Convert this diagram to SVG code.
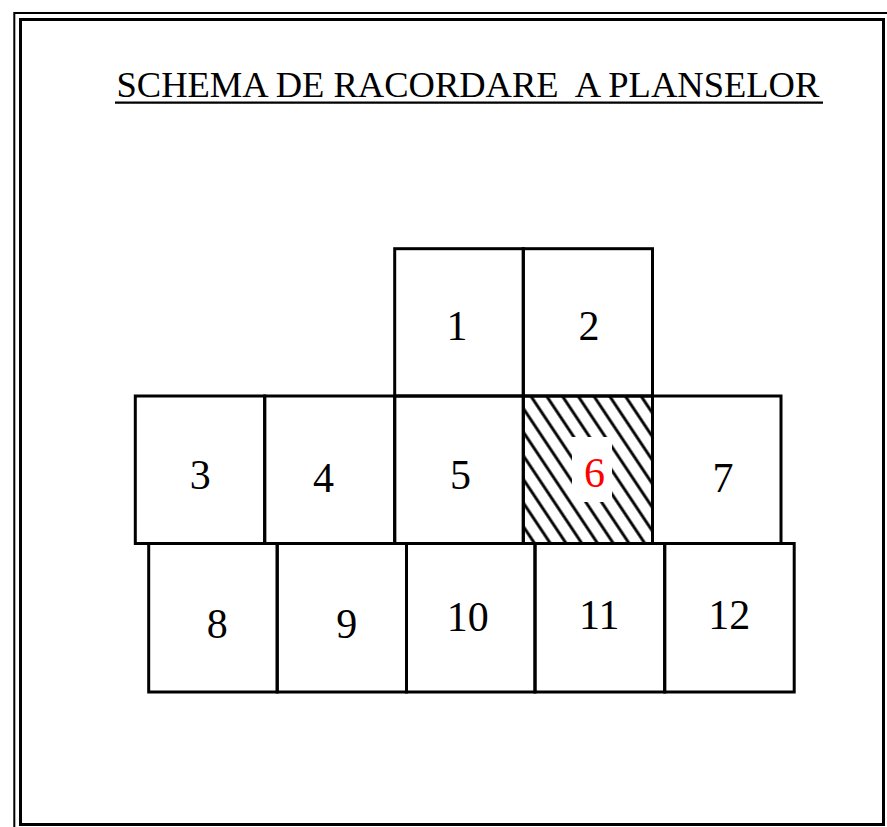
<svg xmlns="http://www.w3.org/2000/svg" width="887" height="827" viewBox="0 0 887 827">
  <defs>
    <style>
      .frame { fill: none; stroke: #000; }
      .cell { fill: none; stroke: #000; stroke-width: 3; }
      .num { font-family: "Liberation Serif", "Times New Roman", serif; font-size: 42px; fill: #000; text-anchor: middle; }
      .title { font-family: "Liberation Serif", "Times New Roman", serif; font-size: 36.5px; fill: #000; white-space: pre; }
    </style>
    <pattern id="hatch" patternUnits="userSpaceOnUse" width="13.1" height="20" patternTransform="translate(523 396) rotate(-33.7)">
      <line x1="6.5" y1="-5" x2="6.5" y2="25" stroke="#000" stroke-width="2.9"/>
    </pattern>
  </defs>
  <rect width="887" height="827" fill="#fff"/>
  <g id="frame">
    <rect class="frame" x="14.3" y="13" width="900" height="900" stroke-width="2"/>
    <rect class="frame" x="20.5" y="19.5" width="863" height="805" stroke-width="3"/>
  </g>
  <g id="title">
    <text class="title" x="116.5" y="97">SCHEMA DE RACORDARE  A PLANSELOR</text>
    <line x1="115" y1="102.7" x2="823" y2="102.7" stroke="#000" stroke-width="2.2"/>
  </g>
  <g id="connectors"></g>
  <g id="sheet-1"><rect class="cell" x="394.7" y="248.7" width="128.6" height="147.3"/><text class="num" x="457" y="340">1</text></g>
  <g id="sheet-2"><rect class="cell" x="523.3" y="248.7" width="129.2" height="147.3"/><text class="num" x="589" y="340">2</text></g>
  <g id="sheet-3"><rect class="cell" x="135.3" y="396" width="129.4" height="147.5"/><text class="num" x="200.3" y="489">3</text></g>
  <g id="sheet-4"><rect class="cell" x="264.7" y="396" width="130" height="147.5"/><text class="num" x="323.5" y="492">4</text></g>
  <g id="sheet-5"><rect class="cell" x="394.7" y="396" width="128.6" height="147.5"/><text class="num" x="460.4" y="489">5</text></g>
  <g id="sheet-6">
    <rect x="523.3" y="396" width="129.2" height="147.5" fill="url(#hatch)"/>
    <rect x="572" y="437" width="40" height="65" fill="#fff"/>
    <rect class="cell" x="523.3" y="396" width="129.2" height="147.5"/>
    <text class="num" x="594.5" y="487" style="fill:#f00">6</text>
  </g>
  <g id="sheet-7"><rect class="cell" x="652.5" y="396" width="128.5" height="147.5"/><text class="num" x="723" y="491.5">7</text></g>
  <g id="sheet-8"><rect class="cell" x="148.7" y="543.5" width="128.5" height="148.5"/><text class="num" x="217.3" y="638">8</text></g>
  <g id="sheet-9"><rect class="cell" x="277.2" y="543.5" width="129.3" height="148.5"/><text class="num" x="346.7" y="638">9</text></g>
  <g id="sheet-10"><rect class="cell" x="406.5" y="543.5" width="128.5" height="148.5"/><text class="num" x="467.8" y="630.5">10</text></g>
  <g id="sheet-11"><rect class="cell" x="535" y="543.5" width="129.7" height="148.5"/><text class="num" x="599.2" y="628.5">11</text></g>
  <g id="sheet-12"><rect class="cell" x="664.7" y="543.5" width="129.5" height="148.5"/><text class="num" x="729.3" y="629.3">12</text></g>
</svg>
